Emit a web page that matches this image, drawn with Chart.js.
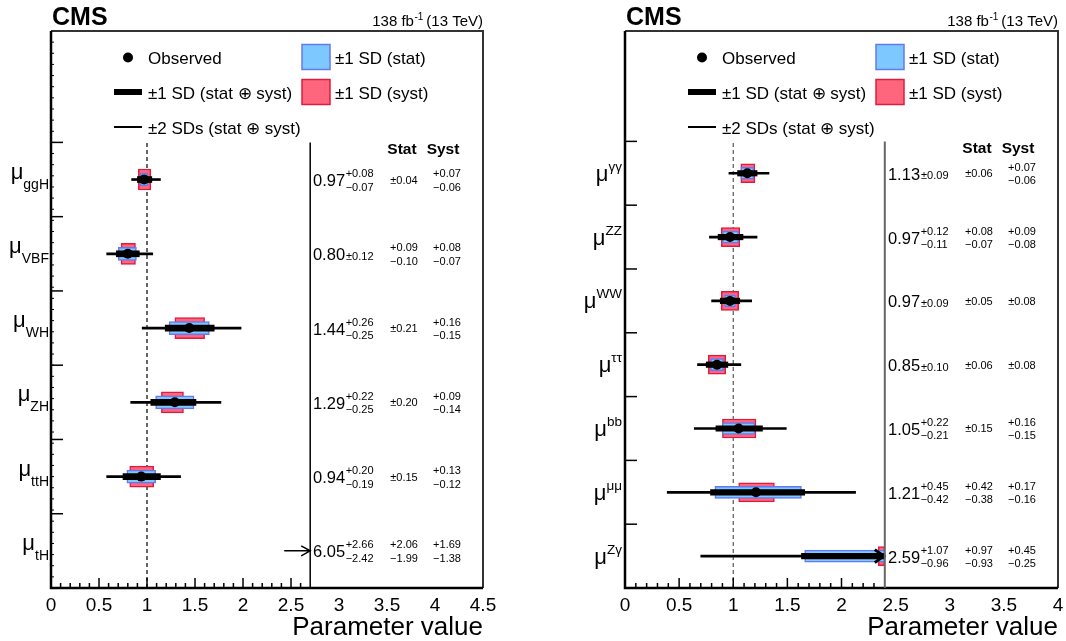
<!DOCTYPE html>
<html>
<head>
<meta charset="utf-8">
<script src="https://cdn.jsdelivr.net/npm/chart.js@4.4.1/dist/chart.umd.min.js"></script>
<style>
  html, body { margin: 0; padding: 0; background: #fff; }
  #wrap { position: relative; width: 1066px; height: 641px; }
  canvas { position: absolute; top: 0; }
  #prod { left: 0; }
  #decay { left: 533px; }
</style>
</head>
<body>
<div id="wrap">
  <canvas id="prod" width="533" height="641"></canvas>
  <canvas id="decay" width="533" height="641"></canvas>
</div>
<script>
// production modes
const prodNames   = ['ggH', 'VBF', 'WH', 'ZH', 'ttH', 'tH'];
const prodBest    = [0.97, 0.80, 1.44, 1.29, 0.94, 6.05];
const prodTotUp   = [0.08, 0.12, 0.26, 0.22, 0.20, 2.66];
const prodTotDn   = [0.07, 0.12, 0.25, 0.25, 0.19, 2.42];
const prodStatUp  = [0.04, 0.09, 0.21, 0.20, 0.15, 2.06];
const prodStatDn  = [0.04, 0.10, 0.21, 0.20, 0.15, 1.99];
const prodSystUp  = [0.07, 0.08, 0.16, 0.09, 0.13, 1.69];
const prodSystDn  = [0.06, 0.07, 0.15, 0.14, 0.12, 1.38];
const prod2sdLo   = [0.84, 0.58, 0.95, 0.83, 0.58, null];
const prod2sdHi   = [1.14, 1.06, 1.98, 1.77, 1.35, null];
const prodTicks   = [0, 0.5, 1, 1.5, 2, 2.5, 3, 3.5, 4, 4.5];

// decay channels
const decayNames  = ['γγ', 'ZZ', 'WW', 'ττ', 'bb', 'μμ', 'Zγ'];
const decayBest   = [1.13, 0.97, 0.97, 0.85, 1.05, 1.21, 2.59];
const decayTotUp  = [0.09, 0.12, 0.09, 0.10, 0.22, 0.45, 1.07];
const decayTotDn  = [0.09, 0.11, 0.09, 0.10, 0.21, 0.42, 0.96];
const decayStatUp = [0.06, 0.08, 0.05, 0.06, 0.15, 0.42, 0.97];
const decayStatDn = [0.06, 0.07, 0.05, 0.06, 0.15, 0.38, 0.93];
const decaySystUp = [0.07, 0.09, 0.08, 0.08, 0.16, 0.17, 0.45];
const decaySystDn = [0.06, 0.08, 0.08, 0.08, 0.15, 0.16, 0.25];
const decay2sdLo  = [0.96, 0.78, 0.80, 0.67, 0.64, 0.39, 0.70];
const decay2sdHi  = [1.33, 1.22, 1.17, 1.07, 1.49, 2.13, null];
const decayTicks  = [0, 0.5, 1, 1.5, 2, 2.5, 3, 3.5, 4];

const FONT = '"Liberation Sans", Arial, sans-serif';
const BLUE = 'rgb(125,200,255)', BLUE_EDGE = 'rgb(100,120,240)';
const RED = 'rgb(255,102,125)', RED_EDGE = 'rgb(222,28,62)';

const rowsOf = n => Array.from({ length: n }, (_, i) => n - i - 0.5);

// floating bars, cut off at the edge of the plotted range
function interval(rows, lo, hi, cut) {
  const out = [];
  rows.forEach((y, i) => {
    if (lo[i] == null || lo[i] >= cut) return;
    const h = hi[i] == null ? cut : Math.min(hi[i], cut);
    out.push({ y, x: [lo[i], h] });
  });
  return out;
}

function txt(ctx, s, x, y, size, align, bold) {
  ctx.font = (bold ? 'bold ' : '') + size + 'px ' + FONT;
  ctx.textAlign = align || 'left';
  ctx.textBaseline = 'alphabetic';
  ctx.fillText(s, x, y);
}
function width(ctx, s, size, bold) {
  ctx.font = (bold ? 'bold ' : '') + size + 'px ' + FONT;
  return ctx.measureText(s).width;
}
const f2 = v => v.toFixed(2);

const decor = {
  id: 'decor',
  afterDatasetsDraw(chart, args, o) {
    const ctx = chart.ctx, xs = chart.scales.x, ys = chart.scales.y;
    const xc = xs.getPixelForValue(o.cut);
    ctx.save();
    ctx.strokeStyle = '#000';
    o.rows.forEach((r, i) => {
      if (o.best[i] <= o.cut) return;
      const cy = ys.getPixelForValue(r);
      ctx.beginPath();
      if (o.best[i] - o.totDn[i] >= o.cut) {
        ctx.lineWidth = 1.5;
        ctx.moveTo(xc - 26, cy); ctx.lineTo(xc, cy);
        ctx.moveTo(xc - 9, cy - 5); ctx.lineTo(xc, cy); ctx.lineTo(xc - 9, cy + 5);
      } else {
        ctx.lineWidth = 3;
        ctx.moveTo(xc - 10, cy - 6.5); ctx.lineTo(xc - 1, cy); ctx.lineTo(xc - 10, cy + 6.5);
      }
      ctx.stroke();
    });
    ctx.restore();
  },
  afterDraw(chart, args, o) {
    const ctx = chart.ctx, xs = chart.scales.x, ys = chart.scales.y;
    const { left: L, right: R, top: T, bottom: B } = chart.chartArea;
    const n = o.rows.length;
    ctx.save();
    ctx.fillStyle = '#000';

    // frame
    ctx.lineWidth = 2;
    ctx.strokeStyle = '#333';
    ctx.beginPath(); ctx.moveTo(L, T); ctx.lineTo(R, T); ctx.lineTo(R, B); ctx.stroke();
    ctx.lineWidth = 2.5;
    ctx.strokeStyle = '#000';
    ctx.beginPath(); ctx.moveTo(L, T); ctx.lineTo(L, B); ctx.lineTo(R, B); ctx.stroke();

    // divider between plot and table
    const xc = xs.getPixelForValue(o.cut);
    ctx.lineWidth = o.divWidth;
    ctx.strokeStyle = o.divColor;
    ctx.beginPath(); ctx.moveTo(xc, B); ctx.lineTo(xc, ys.getPixelForValue(n)); ctx.stroke();

    // x ticks (inward), only under the plotted part
    ctx.strokeStyle = '#000';
    ctx.lineWidth = 1.5;
    for (let k = 0; k / 10 < o.cut - 0.05; k++) {
      const px = xs.getPixelForValue(k / 10);
      const len = k % 5 === 0 ? 10 : 5;
      ctx.beginPath(); ctx.moveTo(px, B); ctx.lineTo(px, B - len); ctx.stroke();
    }
    o.ticks.forEach(v => txt(ctx, String(v), xs.getPixelForValue(v), B + 23, 19, 'center'));
    txt(ctx, 'Parameter value', R, B + 47, 26, 'right');

    // y ticks at row boundaries
    for (let k = 1; k <= n; k++) {
      const py = ys.getPixelForValue(k);
      ctx.beginPath(); ctx.moveTo(L, py); ctx.lineTo(L + 12, py); ctx.stroke();
    }
    if (o.minorY) {
      ctx.lineWidth = 1;
      for (let k = 1; k * o.minorY < ys.max; k++) {
        const py = ys.getPixelForValue(k * o.minorY);
        ctx.beginPath(); ctx.moveTo(L, py); ctx.lineTo(L + 3, py); ctx.stroke();
      }
    }

    // row labels: mu with sub- or superscript
    o.rows.forEach((r, i) => {
      const cy = ys.getPixelForValue(r);
      const name = o.names[i];
      if (o.sub) {
        const w = width(ctx, name, 14);
        txt(ctx, name, L - 2, cy + 9, 14, 'right');
        txt(ctx, 'μ', L - 2 - w, cy - 1, 22, 'right');
      } else {
        const w = width(ctx, name, 13.5);
        txt(ctx, name, L - 3, cy - 2.5, 13.5, 'right');
        txt(ctx, 'μ', L - 3 - w, cy + 7.5, 22, 'right');
      }
    });

    // header
    txt(ctx, 'CMS', L + 1, 25, 25, 'left', true);
    const wE = width(ctx, '(13 TeV)', 15);
    txt(ctx, '(13 TeV)', R, 26, 15, 'right');
    const wS = width(ctx, '-1', 10);
    txt(ctx, '-1', R - wE - 3, 20, 10, 'right');
    txt(ctx, '138 fb', R - wE - wS - 3.5, 26, 15, 'right');

    // legend
    ctx.beginPath(); ctx.arc(L + 77, 57.5, 5, 0, Math.PI * 2); ctx.fill();
    txt(ctx, 'Observed', L + 97, 64, 17);
    ctx.fillRect(L + 63, 89, 28, 6);
    txt(ctx, '±1 SD (stat ⊕ syst)', L + 97, 98.5, 17);
    ctx.fillRect(L + 63, 126, 28, 2);
    txt(ctx, '±2 SDs (stat ⊕ syst)', L + 97, 133.5, 17);
    ctx.lineWidth = 1.5;
    ctx.fillStyle = BLUE; ctx.strokeStyle = BLUE_EDGE;
    ctx.fillRect(L + 251, 44.5, 28, 25); ctx.strokeRect(L + 251, 44.5, 28, 25);
    ctx.fillStyle = RED; ctx.strokeStyle = RED_EDGE;
    ctx.fillRect(L + 251, 79.5, 28, 25); ctx.strokeRect(L + 251, 79.5, 28, 25);
    ctx.fillStyle = '#000';
    txt(ctx, '±1 SD (stat)', L + 284, 64, 17);
    txt(ctx, '±1 SD (syst)', L + 284, 98.5, 17);

    // table of values
    const hy = ys.getPixelForValue(n) + 12;
    const colStat = R - 79, colSyst = R - 36, valRight = R - 109.5;
    txt(ctx, 'Stat', R - 81, hy, 15.5, 'center', true);
    txt(ctx, 'Syst', R - 40, hy, 15.5, 'center', true);
    const pair = (up, dn, x, cy) => {
      if (up === dn) {
        txt(ctx, '±' + f2(up), x, cy + 4, 11, 'center');
      } else {
        txt(ctx, '+' + f2(up), x, cy - 2.5, 11, 'center');
        txt(ctx, '−' + f2(dn), x, cy + 11, 11, 'center');
      }
    };
    o.rows.forEach((r, i) => {
      const cy = ys.getPixelForValue(r);
      const up = o.totUp[i], dn = o.totDn[i];
      if (up === dn) {
        const s = '±' + f2(up);
        const w = width(ctx, s, 11);
        txt(ctx, s, valRight, cy + 6, 11, 'right');
        txt(ctx, f2(o.best[i]), valRight - w - 1, cy + 6.5, 16.5, 'right');
      } else {
        const su = '+' + f2(up), sd = '−' + f2(dn);
        const w = Math.max(width(ctx, su, 11), width(ctx, sd, 11));
        txt(ctx, su, valRight - w, cy - 2.5, 11, 'left');
        txt(ctx, sd, valRight - w, cy + 11, 11, 'left');
        txt(ctx, f2(o.best[i]), valRight - w - 0.5, cy + 6.5, 16.5, 'right');
      }
      pair(o.statUp[i], o.statDn[i], colStat, cy);
      pair(o.systUp[i], o.systDn[i], colSyst, cy);
    });
    ctx.restore();
  }
};

function makePanel(id, p) {
  const n = p.names.length;
  const rows = rowsOf(n);
  const lower = d => p.best.map((b, i) => b - d[i]);
  const upper = u => p.best.map((b, i) => b + u[i]);
  return new Chart(document.getElementById(id), {
    type: 'bar',
    data: {
      datasets: [
        {
          type: 'scatter', label: 'Observed', order: 0,
          data: rows.map((y, i) => ({ x: p.best[i], y })).filter(d => d.x <= p.cut),
          pointRadius: 5, backgroundColor: '#000', borderWidth: 0
        },
        {
          label: '±1 SD (stat ⊕ syst)', order: 1, grouped: false,
          data: interval(rows, lower(p.totDn), upper(p.totUp), p.cut),
          backgroundColor: '#000', barThickness: p.thick, borderWidth: 0
        },
        {
          label: '±2 SDs (stat ⊕ syst)', order: 2, grouped: false,
          data: interval(rows, p.lo2, p.hi2, p.cut),
          backgroundColor: '#000', barThickness: 2, borderWidth: 0
        },
        {
          label: '±1 SD (stat)', order: 3, grouped: false,
          data: interval(rows, lower(p.statDn), upper(p.statUp), p.cut),
          backgroundColor: BLUE, borderColor: BLUE_EDGE, borderWidth: 1.5,
          borderSkipped: false, barThickness: p.statH
        },
        {
          label: '±1 SD (syst)', order: 4, grouped: false,
          data: interval(rows, lower(p.systDn), upper(p.systUp), p.cut),
          backgroundColor: RED, borderColor: RED_EDGE, borderWidth: 1.5,
          borderSkipped: false, barThickness: p.systH
        },
        {
          type: 'line', label: 'SM', order: 5,
          data: [{ x: 1, y: 0 }, { x: 1, y: n }],
          borderColor: p.dashColor, borderWidth: 1.2, borderDash: [4, 3], pointRadius: 0
        }
      ]
    },
    options: {
      responsive: false,
      animation: false,
      devicePixelRatio: 1,
      indexAxis: 'y',
      layout: { padding: p.pad },
      scales: {
        x: { type: 'linear', min: 0, max: p.xMax, offset: false, display: false },
        y: { type: 'linear', min: 0, max: p.yMax, offset: false, display: false }
      },
      plugins: {
        legend: { display: false },
        tooltip: { enabled: false },
        decor: {
          rows, names: p.names, sub: p.sub, best: p.best,
          totUp: p.totUp, totDn: p.totDn, statUp: p.statUp, statDn: p.statDn,
          systUp: p.systUp, systDn: p.systDn, cut: p.cut, ticks: p.ticks,
          divColor: p.divColor, divWidth: p.divWidth, minorY: p.minorY
        }
      }
    },
    plugins: [decor]
  });
}

makePanel('prod', {
  names: prodNames, best: prodBest, totUp: prodTotUp, totDn: prodTotDn,
  statUp: prodStatUp, statDn: prodStatDn, systUp: prodSystUp, systDn: prodSystDn,
  lo2: prod2sdLo, hi2: prod2sdHi, ticks: prodTicks,
  cut: 2.7, xMax: 4.5, yMax: 7.5, sub: true, minorY: 0.15,
  pad: { left: 51, right: 50, top: 31, bottom: 53 },
  thick: 6, statH: 13, systH: 21, dashColor: '#000', divColor: '#000', divWidth: 1.5
});

makePanel('decay', {
  names: decayNames, best: decayBest, totUp: decayTotUp, totDn: decayTotDn,
  statUp: decayStatUp, statDn: decayStatDn, systUp: decaySystUp, systDn: decaySystDn,
  lo2: decay2sdLo, hi2: decay2sdHi, ticks: decayTicks,
  cut: 2.4, xMax: 4, yMax: 8.73, sub: false, minorY: 0,
  pad: { left: 92, right: 8, top: 31, bottom: 53 },
  thick: 5.5, statH: 12, systH: 19, dashColor: '#555', divColor: '#666', divWidth: 2
});
</script>
</body>
</html>
